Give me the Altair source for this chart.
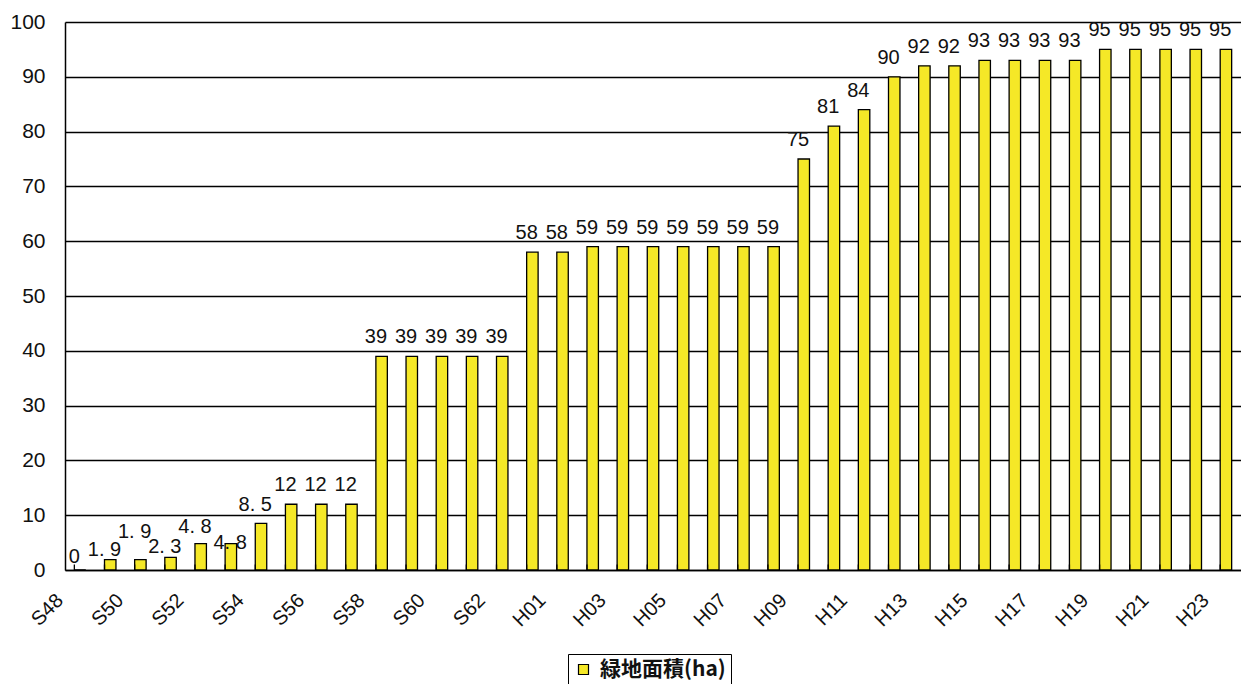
import altair as alt
import pandas as pd

# ---- data ----
categories = [
    "S48", "S49", "S50", "S51", "S52", "S53", "S54", "S55", "S56", "S57",
    "S58", "S59", "S60", "S61", "S62", "S63",
    "H01", "H02", "H03", "H04", "H05", "H06", "H07", "H08", "H09", "H10",
    "H11", "H12", "H13", "H14", "H15", "H16", "H17", "H18", "H19", "H20",
    "H21", "H22", "H23",
]
values = [
    0, 1.9, 1.9, 2.3, 4.8, 4.8, 8.5, 12, 12, 12,
    39, 39, 39, 39, 39, 58,
    58, 59, 59, 59, 59, 59, 59, 59, 75, 81,
    84, 90, 92, 92, 93, 93, 93, 93, 95, 95,
    95, 95, 95,
]
series_name = "緑地面積(ha)"
y_ticks = [0, 10, 20, 30, 40, 50, 60, 70, 80, 90, 100]

PLOT_W, PLOT_H = 1176, 548
PX_PER_UNIT = PLOT_H / 100.0

# label nudges (pixels, + = down) for the crowded small values, as in the original
label_nudge_y = {0: 6, 1: 9, 2: -9, 3: 9, 4: 2, 5: 18, 6: 1}
label_nudge_x = {5: 5}


def fmt(v):
    s = f"{v:g}"
    return s.replace(".", ". ")


df = pd.DataFrame({
    "cat": categories,
    "value": values,
    "series": series_name,
    "label": [fmt(v) for v in values],
    "ny": [label_nudge_y.get(i, 0) for i in range(len(values))],
    "nx": [label_nudge_x.get(i, 0) for i in range(len(values))],
})

FONT = "Liberation Sans Narrow, Liberation Sans, Arial, sans-serif"
YELLOW = "#F5E827"

x_enc = alt.X(
    "cat:N",
    sort=categories,
    scale=alt.Scale(paddingInner=0.62, paddingOuter=0.31),
    axis=alt.Axis(
        title=None,
        values=categories[::2],
        labelAngle=-45,
        labelAlign="right",
        labelBaseline="middle",
        labelFont=FONT,
        labelFontSize=20,
        labelColor="#111111",
        labelPadding=27,
        labelOffset=-20,
        ticks=False,
        domain=True,
        domainColor="black",
        domainWidth=1.5,
        grid=False,
    ),
)

y_scale = alt.Scale(domain=[0, 100], nice=False)

bars = alt.Chart(df).mark_bar(stroke="black", strokeWidth=1.3).encode(
    x=x_enc,
    y=alt.Y(
        "value:Q",
        scale=y_scale,
        axis=alt.Axis(
            title=None,
            values=y_ticks,
            labelFont=FONT,
            labelFontSize=21,
            labelColor="#111111",
            labelPadding=20,
            ticks=False,
            domain=True,
            domainColor="black",
            domainWidth=1.5,
            grid=True,
            gridColor="black",
            gridWidth=1.5,
            gridOpacity=1,
        ),
    ),
    color=alt.Color(
        "series:N",
        scale=alt.Scale(range=[YELLOW]),
        legend=alt.Legend(
            title=None,
            orient="none",
            legendX=503,
            legendY=632,
            direction="horizontal",
            symbolType="square",
            symbolSize=100,
            symbolStrokeColor="black",
            symbolStrokeWidth=1.2,
            labelFont="Noto Sans CJK JP",
            labelFontSize=21,
            labelFontWeight="bold",
            labelColor="#111111",
            labelOffset=6,
            strokeColor="black",
            padding=5,
            fillColor="white",
        ),
    ),
)

ticks = alt.Chart(df).transform_calculate(
    zero="0", tick_top="1"
).mark_rule(color="black", strokeWidth=1.3).encode(
    x=alt.X("cat:N", sort=categories, bandPosition=0),
    y=alt.Y("zero:Q", scale=y_scale),
    y2=alt.Y2("tick_top:Q"),
)

labels = alt.Chart(df).transform_calculate(
    label_y=f"datum.value - datum.ny / {PX_PER_UNIT}"
).mark_text(
    font=FONT,
    fontSize=20,
    color="#111111",
    baseline="bottom",
    dy=-9,
).encode(
    x=alt.X("cat:N", sort=categories),
    y=alt.Y("label_y:Q", scale=y_scale),
    xOffset=alt.XOffset("nx:Q", scale=None),
    text="label:N",
)

chart = alt.layer(bars, ticks, labels).properties(
    width=PLOT_W,
    height=PLOT_H,
    autosize=alt.AutoSizeParams(type="none"),
    padding={"left": 65, "top": 22, "right": 0, "bottom": 114},
    background="white",
).configure_view(stroke=None)

chart.save("out.html", embed_options={"renderer": "svg", "actions": False})
